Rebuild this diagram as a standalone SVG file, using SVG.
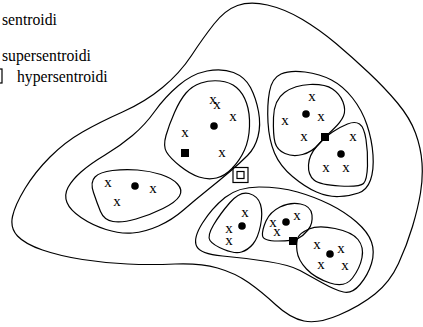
<svg xmlns="http://www.w3.org/2000/svg" width="423" height="327" viewBox="0 0 423 327">
<style>
.c{fill:none;stroke:#000;stroke-width:1.2}
.x{font-family:"Liberation Serif","Times New Roman",serif;font-size:15px;text-anchor:middle;fill:#000}
.lg{font-family:"Liberation Serif","Times New Roman",serif;font-size:15.7px;fill:#000}
.d{fill:#000}
.s{fill:#000}
.h{fill:none;stroke:#000;stroke-width:1.2}
</style>
<rect width="423" height="327" fill="#fff"/>
<g id="legend">
<text class="lg" x="2" y="25">sentroidi</text>
<text class="lg" x="2" y="60.5">supersentroidi</text>
<rect class="h" x="-12" y="69" width="14" height="14"/>
<rect class="h" x="-8" y="73" width="6" height="6"/>
<text class="lg" x="17" y="82">hypersentroidi</text>
</g>
<g id="connectors"/>
<g id="hypercluster">
<path class="c" d="M237.5,5.5 Q250,1 267.5,5 Q285,9 302.5,19.5 Q320,30 336,43.5 Q352,57 368.5,72.5 Q385,88 397.5,103 Q410,118 415.5,133 Q421,148 422,163 Q423,178 420.5,193 Q418,208 412.5,226.5 Q407,245 398.5,263.5 Q390,282 375,294 Q360,306 339,315 Q318,324 304,321 Q290,318 276,305 Q262,292 248.5,282.5 Q235,273 217.5,268 Q200,263 175,264 Q150,265 127.5,264 Q105,263 82.5,259.5 Q60,256 42.5,250 Q25,244 17.5,236 Q10,228 12.5,216.5 Q15,205 25,188.5 Q35,172 50,157 Q65,142 82.5,132 Q100,122 122.5,112 Q145,102 162.5,87.5 Q180,73 191.5,55.5 Q203,38 214,24 Q225,10 237.5,5.5 Z"/>
<rect class="h" x="233" y="167.5" width="15" height="15"/>
<rect class="h" x="237" y="171.5" width="7" height="7"/>
</g>
<g id="super-left">
<path class="c" d="M207,71 Q222,68 233.5,72.5 Q245,77 250.5,87.5 Q256,98 258.5,111.5 Q261,125 258,136.5 Q255,148 247.5,155.5 Q240,163 230,171.5 Q220,180 207.5,190 Q195,200 183.5,210 Q172,220 158.5,226 Q145,232 132.5,233 Q120,234 106,229.5 Q92,225 81,217.5 Q70,210 67,202.5 Q64,195 68,187.5 Q72,180 81,172 Q90,164 105,155 Q120,146 132.5,135.5 Q145,125 155,111 Q165,97 178.5,85.5 Q192,74 207,71 Z"/>
<rect class="s" x="181" y="149" width="8" height="8"/>
</g>
<g id="cluster-left">
<path class="c" d="M95,177 Q100,172 112.5,170.5 Q125,169 137.5,170 Q150,171 161,174.5 Q172,178 177.5,184 Q183,190 179.5,196 Q176,202 163,208.5 Q150,215 136,219 Q122,223 113,221.5 Q104,220 100.5,211.5 Q97,203 93.5,192.5 Q90,182 95,177 Z"/>
<text class="x" x="108" y="186.5">x</text>
<text class="x" x="153" y="192.5">x</text>
<text class="x" x="117" y="205.5">x</text>
<circle class="d" cx="135" cy="186" r="3.8"/>
</g>
<g id="cluster-mid">
<path class="c" d="M201,83 Q210,80 220,81 Q230,82 236.5,87.5 Q243,93 246.5,103 Q250,113 249.5,126.5 Q249,140 244.5,150 Q240,160 232.5,168 Q225,176 216.5,178 Q208,180 199,177 Q190,174 180,166 Q170,158 166.5,152 Q163,146 166,135.5 Q169,125 174.5,112.5 Q180,100 186,93 Q192,86 201,83 Z"/>
<text class="x" x="213" y="103.5">x</text>
<text class="x" x="217" y="108.5">x</text>
<text class="x" x="233" y="120.5">x</text>
<text class="x" x="185" y="136.5">x</text>
<text class="x" x="222" y="156.5">x</text>
<circle class="d" cx="214" cy="126" r="3.8"/>
</g>
<g id="super-upper-right">
<path class="c" d="M281,74 Q290,70 305,72 Q320,74 331.5,80 Q343,86 352.5,98 Q362,110 367,125 Q372,140 373,155 Q374,170 370.5,180 Q367,190 358.5,193 Q350,196 339,196.5 Q328,197 316.5,192 Q305,187 292.5,176.5 Q280,166 274.5,153 Q269,140 268,122.5 Q267,105 269.5,91.5 Q272,78 281,74 Z"/>
<rect class="s" x="321" y="133" width="8" height="8"/>
</g>
<g id="cluster-ur1">
<path class="c" d="M284.5,92.5 Q295,85 310,84.5 Q325,84 332.5,89 Q340,94 343,102 Q346,110 343.5,116 Q341,122 333,129.5 Q325,137 318.5,144.5 Q312,152 302.5,154.5 Q293,157 285,153.5 Q277,150 275,142.5 Q273,135 273.5,117.5 Q274,100 284.5,92.5 Z"/>
<text class="x" x="312" y="100.5">x</text>
<text class="x" x="285" y="124.5">x</text>
<text class="x" x="321" y="120.5">x</text>
<text class="x" x="304" y="140.5">x</text>
<circle class="d" cx="306" cy="114" r="3.8"/>
</g>
<g id="cluster-ur2">
<path class="c" d="M317,146 Q325,137 332.5,132 Q340,127 347.5,124 Q355,121 359.5,124 Q364,127 366,139.5 Q368,152 367.5,166 Q367,180 363.5,183.5 Q360,187 340,186 Q320,185 314,180 Q308,175 308.5,165 Q309,155 317,146 Z"/>
<text class="x" x="353" y="140.5">x</text>
<text class="x" x="326" y="171.5">x</text>
<text class="x" x="346" y="171.5">x</text>
<circle class="d" cx="341" cy="154" r="3.8"/>
</g>
<g id="super-bottom">
<path class="c" d="M225,197.5 Q238,187 259,187 Q280,187 297.5,192 Q315,197 330,204.5 Q345,212 356.5,222 Q368,232 371.5,242 Q375,252 371.5,263.5 Q368,275 360,284.5 Q352,294 343.5,292 Q335,290 322.5,283 Q310,276 300,270.5 Q290,265 267.5,261.5 Q245,258 222.5,256 Q200,254 196.5,246 Q193,238 202.5,223 Q212,208 225,197.5 Z"/>
<rect class="s" x="289" y="237" width="8" height="8"/>
</g>
<g id="cluster-bl">
<path class="c" d="M230,202.5 Q240,191 249,193.5 Q258,196 260.5,204.5 Q263,213 260.5,225.5 Q258,238 253,244 Q248,250 241.5,252 Q235,254 224,249.5 Q213,245 210,240.5 Q207,236 213.5,225 Q220,214 230,202.5 Z"/>
<text class="x" x="245" y="216.5">x</text>
<text class="x" x="229" y="232.5">x</text>
<text class="x" x="229" y="244.5">x</text>
<circle class="d" cx="242" cy="226" r="3.8"/>
</g>
<g id="cluster-bm">
<path class="c" d="M266,221 Q270,212 280,207 Q290,202 300.5,204 Q311,206 312,215 Q313,224 308,230 Q303,236 298,238.5 Q293,241 278,241 Q263,241 262.5,235.5 Q262,230 266,221 Z"/>
<text class="x" x="273" y="226.5">x</text>
<text class="x" x="277" y="236">x</text>
<text class="x" x="297" y="220">x</text>
<circle class="d" cx="286" cy="222" r="3.8"/>
</g>
<g id="cluster-br">
<path class="c" d="M298,237.5 Q300,233 309,229 Q318,225 335,228.5 Q352,232 358,239.5 Q364,247 362,257.5 Q360,268 352.5,278 Q345,288 330,283 Q315,278 306.5,269 Q298,260 297,251 Q296,242 298,237.5 Z"/>
<text class="x" x="317" y="248.5">x</text>
<text class="x" x="341" y="252.5">x</text>
<text class="x" x="321" y="268.5">x</text>
<text class="x" x="345" y="269.5">x</text>
<circle class="d" cx="330" cy="254" r="3.8"/>
</g>
</svg>
